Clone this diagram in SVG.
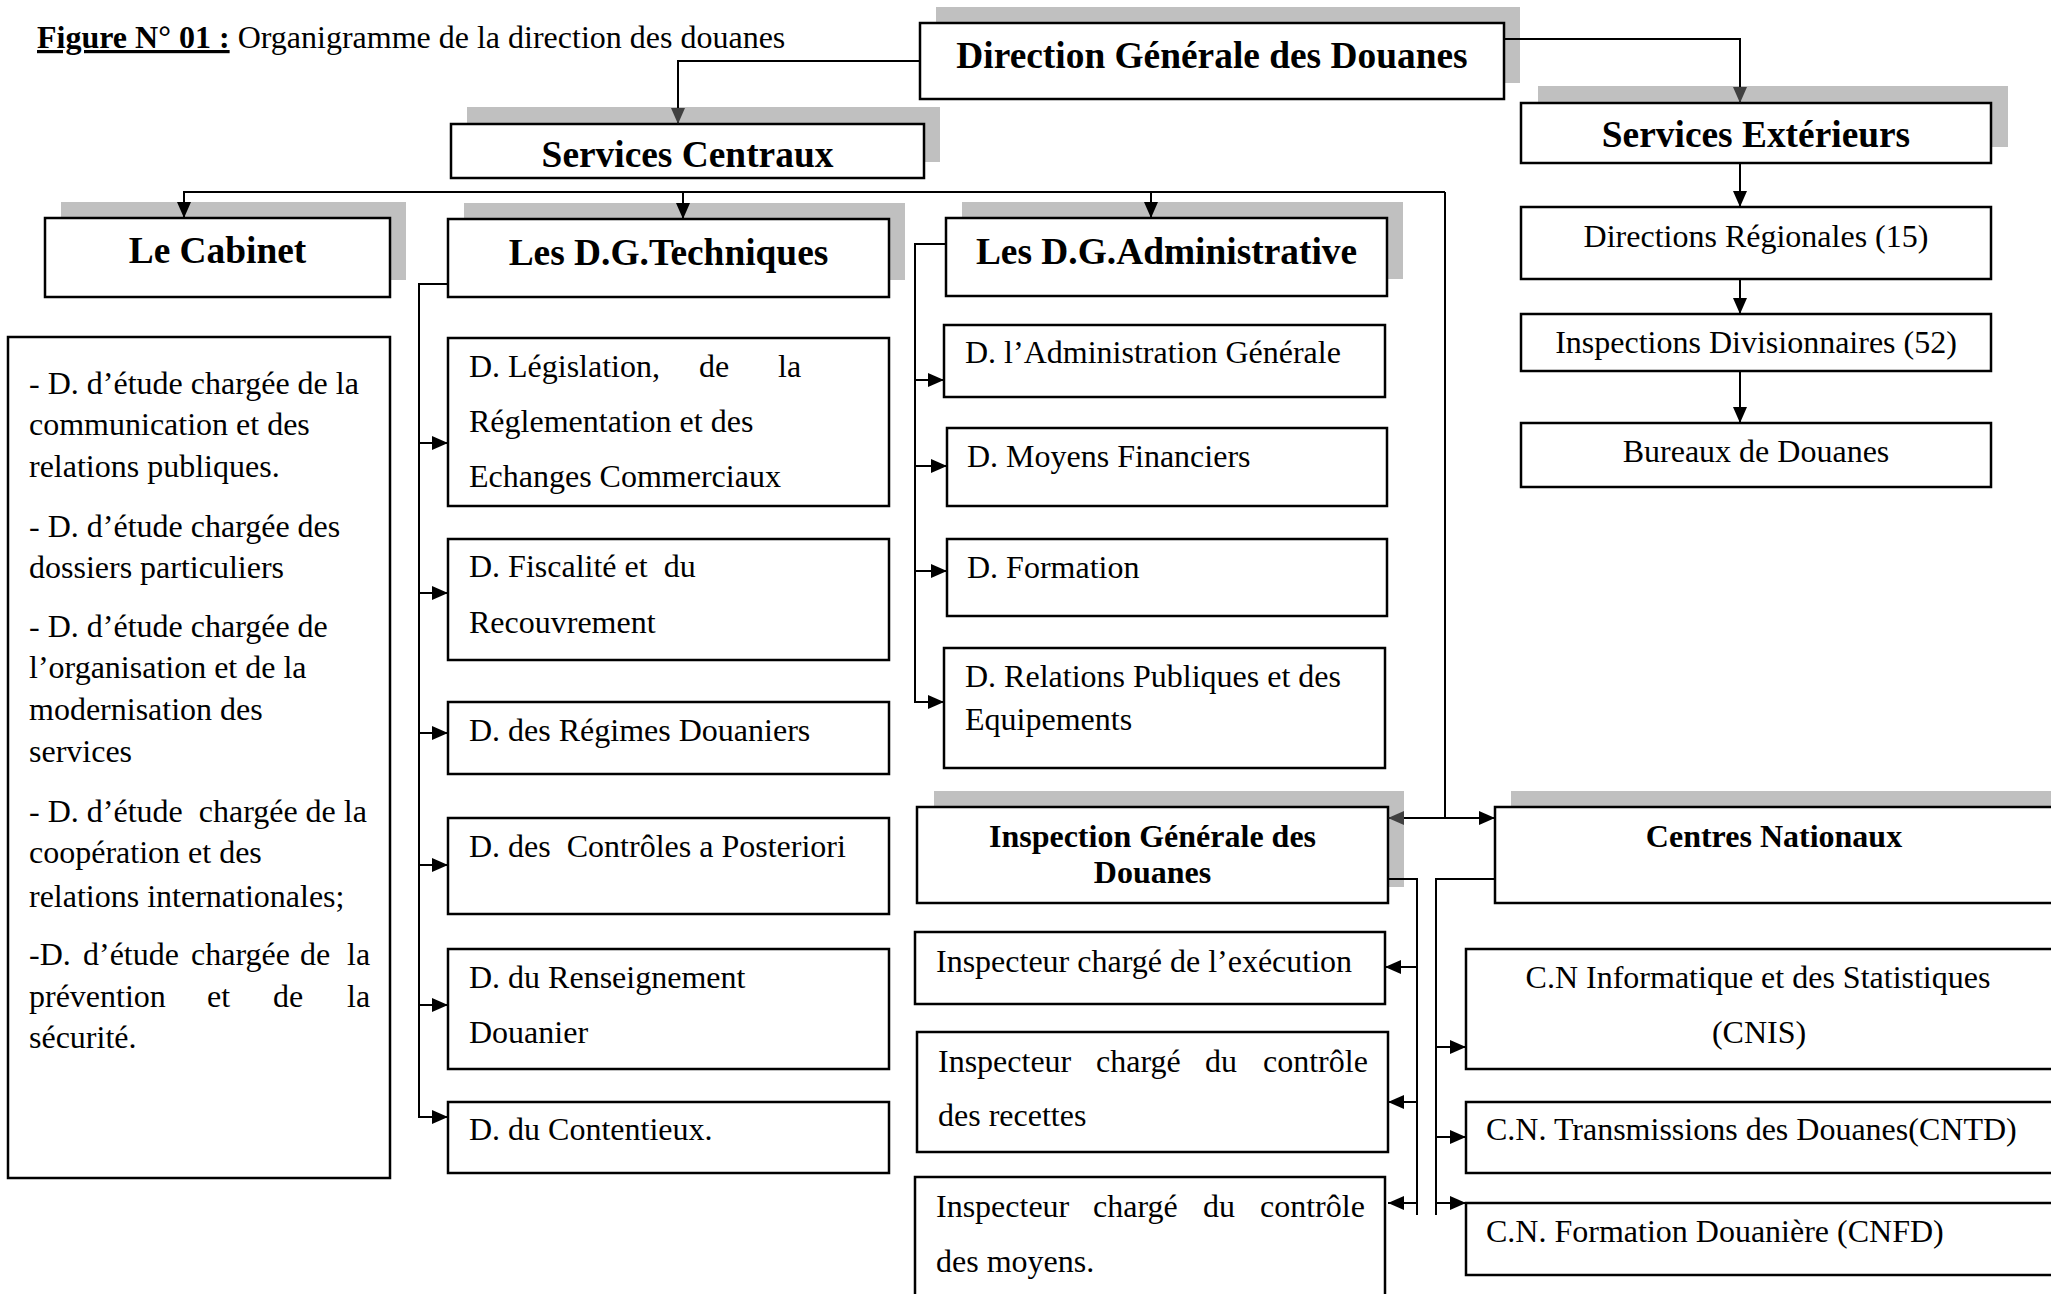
<svg xmlns="http://www.w3.org/2000/svg" width="2051" height="1294" viewBox="0 0 2051 1294">
<style>
.bg{fill:#fff}
.box{fill:#fff;stroke:#000;stroke-width:2.5}
.sh{fill:#c0c0c0}
.ln{fill:none;stroke:#000;stroke-width:2}
text{font-family:"Liberation Serif","Times New Roman",serif;font-size:32px;fill:#000}
.h{font-weight:bold;font-size:37.4px;text-anchor:middle}
.h2{font-weight:bold;font-size:32px;text-anchor:middle}
.c{text-anchor:middle}
</style>
<defs>
<marker id="ab" markerUnits="userSpaceOnUse" markerWidth="17" markerHeight="15" refX="16" refY="7" orient="auto"><path d="M0,0 L16,7 L0,14 Z" fill="#000"/></marker>
<marker id="ag" markerUnits="userSpaceOnUse" markerWidth="17" markerHeight="15" refX="16" refY="7" orient="auto"><path d="M0,0 L16,7 L0,14 Z" fill="#404040"/></marker>
</defs>
<rect class="bg" x="0" y="0" width="2051" height="1294"/>

<text x="37" y="48"><tspan font-weight="bold" text-decoration="underline">Figure N° 01 :</tspan> Organigramme de la direction des douanes</text>

<g id="dgd"><rect class="sh" x="936" y="7" width="584" height="76"/><rect class="box" x="920" y="23" width="584" height="76"/><text class="h" x="1212" y="68">Direction Générale des Douanes</text></g>
<g id="sc"><rect class="sh" x="467" y="107" width="473" height="55"/><rect class="box" x="451" y="124" width="473" height="54"/><text class="h" x="687.5" y="167">Services Centraux</text></g>
<g id="se"><rect class="sh" x="1538" y="86" width="470" height="61"/><rect class="box" x="1521" y="103" width="470" height="60"/><text class="h" x="1756" y="147">Services Extérieurs</text></g>
<g id="cabinet"><rect class="sh" x="61" y="202" width="345" height="78"/><rect class="box" x="45" y="218" width="345" height="79"/><text class="h" x="217.5" y="263">Le Cabinet</text></g>
<g id="dgt"><rect class="sh" x="464" y="203" width="441" height="77"/><rect class="box" x="448" y="219" width="441" height="78"/><text class="h" x="668.5" y="265">Les D.G.Techniques</text></g>
<g id="dga"><rect class="sh" x="962" y="202" width="441" height="77"/><rect class="box" x="946" y="218" width="441" height="78"/><text class="h" x="1166.5" y="264">Les D.G.Administrative</text></g>

<g id="dr"><rect class="box" x="1521" y="207" width="470" height="72"/><text class="c" x="1756" y="247">Directions Régionales (15)</text></g>
<g id="id"><rect class="box" x="1521" y="314" width="470" height="57"/><text class="c" x="1756" y="353">Inspections Divisionnaires (52)</text></g>
<g id="bd"><rect class="box" x="1521" y="423" width="470" height="64"/><text class="c" x="1756" y="462">Bureaux de Douanes</text></g>

<g id="cabinet-list"><rect class="box" x="8" y="337" width="382" height="841"/>
<text x="29" y="394">- D. d’étude chargée de la</text>
<text x="29" y="435">communication et des</text>
<text x="29" y="477">relations publiques.</text>
<text x="29" y="537">- D. d’étude chargée des</text>
<text x="29" y="578">dossiers particuliers</text>
<text x="29" y="637">- D. d’étude chargée de</text>
<text x="29" y="678">l’organisation et de la</text>
<text x="29" y="720">modernisation des</text>
<text x="29" y="762">services</text>
<text x="29" y="822" xml:space="preserve">- D. d’étude  chargée de la</text>
<text x="29" y="863">coopération et des</text>
<text x="29" y="907">relations internationales;</text>
<text y="965"><tspan x="29">-D.</tspan><tspan x="83">d’étude</tspan><tspan x="191">chargée</tspan><tspan x="300">de</tspan><tspan x="347">la</tspan></text>
<text y="1007"><tspan x="29">prévention</tspan><tspan x="207">et</tspan><tspan x="273">de</tspan><tspan x="347">la</tspan></text>
<text x="29" y="1048">sécurité.</text>
</g>

<g id="t1"><rect class="box" x="448" y="338" width="441" height="168"/><text y="377"><tspan x="469">D.</tspan><tspan x="508">Législation,</tspan><tspan x="699">de</tspan><tspan x="778">la</tspan></text><text x="469" y="432">Réglementation et des</text><text x="469" y="487">Echanges Commerciaux</text></g>
<g id="t2"><rect class="box" x="448" y="539" width="441" height="121"/><text x="469" y="577" xml:space="preserve">D. Fiscalité et  du</text><text x="469" y="633">Recouvrement</text></g>
<g id="t3"><rect class="box" x="448" y="702" width="441" height="72"/><text x="469" y="741">D. des Régimes Douaniers</text></g>
<g id="t4"><rect class="box" x="448" y="818" width="441" height="96"/><text x="469" y="857" xml:space="preserve">D. des  Contrôles a Posteriori</text></g>
<g id="t5"><rect class="box" x="448" y="949" width="441" height="120"/><text x="469" y="988">D. du Renseignement</text><text x="469" y="1043">Douanier</text></g>
<g id="t6"><rect class="box" x="448" y="1102" width="441" height="71"/><text x="469" y="1140">D. du Contentieux.</text></g>

<g id="a1"><rect class="box" x="944" y="325" width="441" height="72"/><text x="965" y="363">D. l’Administration Générale</text></g>
<g id="a2"><rect class="box" x="947" y="428" width="440" height="78"/><text x="967" y="467">D. Moyens Financiers</text></g>
<g id="a3"><rect class="box" x="947" y="539" width="440" height="77"/><text x="967" y="578">D. Formation</text></g>
<g id="a4"><rect class="box" x="944" y="648" width="441" height="120"/><text x="965" y="687">D. Relations Publiques et des</text><text x="965" y="730">Equipements</text></g>

<g id="igd"><rect class="sh" x="934" y="791" width="470" height="96"/><rect class="box" x="917" y="807" width="471" height="96"/><text class="h2" x="1152.5" y="847">Inspection Générale des</text><text class="h2" x="1152.5" y="883">Douanes</text></g>
<g id="i1"><rect class="box" x="915" y="932" width="470" height="72"/><text x="936" y="972">Inspecteur chargé de l’exécution</text></g>
<g id="i2"><rect class="box" x="917" y="1032" width="471" height="120"/><text y="1072"><tspan x="938">Inspecteur</tspan><tspan x="1096">chargé</tspan><tspan x="1205">du</tspan><tspan x="1263">contrôle</tspan></text><text x="938" y="1126">des recettes</text></g>
<g id="i3"><rect class="box" x="915" y="1177" width="470" height="140"/><text y="1217"><tspan x="936">Inspecteur</tspan><tspan x="1093">chargé</tspan><tspan x="1203">du</tspan><tspan x="1260">contrôle</tspan></text><text x="936" y="1272">des moyens.</text></g>

<g id="cn"><rect class="sh" x="1511" y="791" width="570" height="96"/><rect class="box" x="1495" y="807" width="570" height="96"/><text class="h2" x="1774" y="847">Centres Nationaux</text></g>
<g id="c1"><rect class="box" x="1466" y="949" width="600" height="120"/><text class="c" x="1758" y="988">C.N Informatique et des Statistiques</text><text class="c" x="1759" y="1043">(CNIS)</text></g>
<g id="c2"><rect class="box" x="1466" y="1102" width="600" height="71"/><text x="1486" y="1140">C.N. Transmissions des Douanes(CNTD)</text></g>
<g id="c3"><rect class="box" x="1466" y="1203" width="600" height="72"/><text x="1486" y="1242">C.N. Formation Douanière (CNFD)</text></g>

<g id="connectors">
<path class="ln" d="M920,61 H678 V124" marker-end="url(#ag)"/>
<path class="ln" d="M1504,39 H1740 V103" marker-end="url(#ag)"/>
<path class="ln" d="M1445,192 H184 V218" marker-end="url(#ab)"/>
<path class="ln" d="M683,192 V219" marker-end="url(#ab)"/>
<path class="ln" d="M1151,192 V218" marker-end="url(#ab)"/>
<path class="ln" d="M1445,192 V818"/>
<path class="ln" d="M1445,818 H1388" marker-end="url(#ag)"/>
<path class="ln" d="M1445,818 H1495" marker-end="url(#ab)"/>
<path class="ln" d="M1740,163 V207" marker-end="url(#ab)"/>
<path class="ln" d="M1740,279 V314" marker-end="url(#ab)"/>
<path class="ln" d="M1740,371 V423" marker-end="url(#ab)"/>
<path class="ln" d="M448,284 H419 V1117 H448" marker-end="url(#ab)"/>
<path class="ln" d="M419,443 H448" marker-end="url(#ab)"/>
<path class="ln" d="M419,593 H448" marker-end="url(#ab)"/>
<path class="ln" d="M419,733 H448" marker-end="url(#ab)"/>
<path class="ln" d="M419,865 H448" marker-end="url(#ab)"/>
<path class="ln" d="M419,1005 H448" marker-end="url(#ab)"/>
<path class="ln" d="M946,244 H915 V702 H944" marker-end="url(#ab)"/>
<path class="ln" d="M915,380 H944" marker-end="url(#ab)"/>
<path class="ln" d="M915,466 H947" marker-end="url(#ab)"/>
<path class="ln" d="M915,571 H947" marker-end="url(#ab)"/>
<path class="ln" d="M1388,879 H1417 V1215"/>
<path class="ln" d="M1417,967 H1385" marker-end="url(#ab)"/>
<path class="ln" d="M1417,1102 H1388" marker-end="url(#ab)"/>
<path class="ln" d="M1417,1203 H1388" marker-end="url(#ab)"/>
<path class="ln" d="M1495,879 H1436 V1215"/>
<path class="ln" d="M1436,1047 H1466" marker-end="url(#ab)"/>
<path class="ln" d="M1436,1137 H1466" marker-end="url(#ab)"/>
<path class="ln" d="M1436,1203 H1466" marker-end="url(#ab)"/>
</g>
</svg>
